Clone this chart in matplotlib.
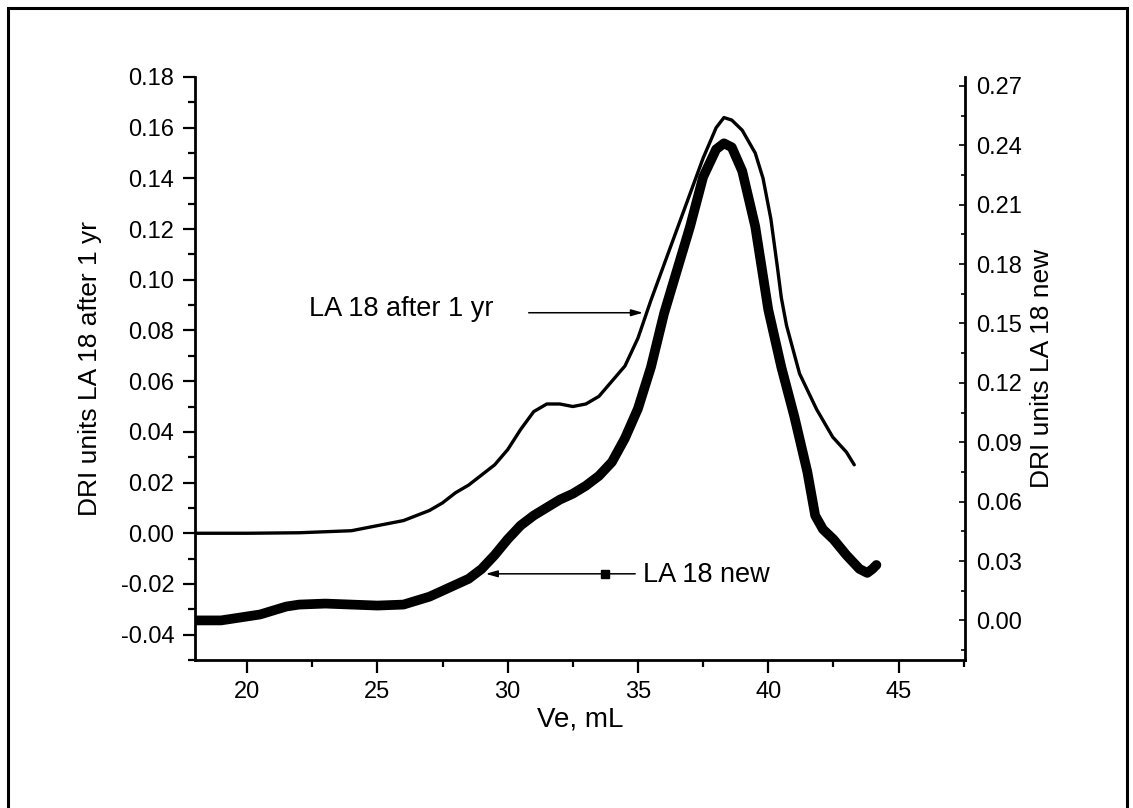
import matplotlib
matplotlib.use("Agg")
import matplotlib.pyplot as plt
from matplotlib.patches import Rectangle
from matplotlib.ticker import MultipleLocator

plt.rcParams['font.family'] = ['Liberation Sans', 'DejaVu Sans']

# LA 18 after 1 yr (left axis)
ve_old = [18, 20, 22, 24, 25, 26, 27, 27.5, 28, 28.5, 29, 29.5, 30, 30.5, 31, 31.5,
          32, 32.5, 33, 33.5, 34, 34.5, 35, 35.5, 36, 36.5, 37, 37.5, 38, 38.3, 38.6,
          39, 39.5, 39.8, 40.1, 40.35, 40.5, 40.7, 41.2, 41.85, 42.47, 43.0, 43.3]
dri_old = [0, 0, 0.0002, 0.001, 0.003, 0.005, 0.009, 0.012, 0.016, 0.019, 0.023, 0.027,
           0.033, 0.041, 0.048, 0.051, 0.051, 0.050, 0.051, 0.054, 0.060, 0.066, 0.077,
           0.092, 0.106, 0.120, 0.134, 0.148, 0.160, 0.164, 0.163, 0.159, 0.150, 0.140,
           0.124, 0.105, 0.093, 0.082, 0.063, 0.049, 0.038, 0.032, 0.027]

# LA 18 new (right axis)
ve_new = [18, 19, 20, 20.5, 21, 21.5, 22, 23, 24, 25, 26, 26.5, 27, 27.5, 28, 28.5, 29,
          29.5, 30, 30.5, 31, 31.5, 32, 32.5, 33, 33.5, 34, 34.5, 35, 35.5, 36, 36.5, 37,
          37.5, 38, 38.3, 38.6, 39, 39.5, 40, 40.5, 41, 41.5, 41.8, 42.1, 42.5, 43, 43.5,
          43.8, 44.0, 44.15]
dri_new = [0.0, 0.0, 0.002, 0.003, 0.005, 0.007, 0.008, 0.0085, 0.008, 0.0075, 0.008,
           0.010, 0.012, 0.015, 0.018, 0.021, 0.026, 0.033, 0.041, 0.048, 0.053, 0.057,
           0.061, 0.064, 0.068, 0.073, 0.080, 0.092, 0.107, 0.128, 0.155, 0.177, 0.199,
           0.224, 0.238, 0.241, 0.239, 0.227, 0.199, 0.157, 0.128, 0.103, 0.075, 0.053,
           0.046, 0.041, 0.033, 0.026, 0.024, 0.026, 0.028]

fig = plt.figure(figsize=(11.33, 8.08), dpi=100)
ax = fig.add_axes([195 / 1133, 1 - 660 / 808, (965 - 195) / 1133, (660 - 77) / 808])

# outer frame
fig.patches.append(Rectangle((7.5 / 1133, -0.02), (1127 - 7.5) / 1133, 1.02 - 7.5 / 808,
                             transform=fig.transFigure, fill=False, lw=2.2, ec='black'))

ax.plot(ve_old, dri_old, color='black', lw=2.4, solid_joinstyle='round', solid_capstyle='round')
ax.set_xlim(18, 47.55)
ax.set_ylim(-0.05, 0.18)
ax.xaxis.set_major_locator(MultipleLocator(5))
ax.xaxis.set_minor_locator(MultipleLocator(2.5))
ax.yaxis.set_major_locator(MultipleLocator(0.02))
ax.yaxis.set_minor_locator(MultipleLocator(0.01))
ax.yaxis.set_major_formatter(plt.FuncFormatter(lambda v, p: f"{v:.2f}".replace("-0.00", "0.00")))
ax.spines['top'].set_visible(False)
ax.spines['right'].set_visible(False)
for s in ['left', 'bottom']:
    ax.spines[s].set_linewidth(2)
ax.tick_params(which='major', direction='out', length=9, width=1.6, labelsize=17, pad=6)
ax.tick_params(which='minor', direction='out', length=5, width=1.6)
ax.set_xlabel("Ve, mL", fontsize=20, labelpad=3)
ax.set_ylabel("DRI units LA 18 after 1 yr", fontsize=19, labelpad=13)

ax2 = ax.twinx()
ax2.plot(ve_new, dri_new, color='black', lw=7, solid_joinstyle='round', solid_capstyle='round')
ax2.set_ylim(-0.02, 0.2745)
ax2.yaxis.set_major_locator(MultipleLocator(0.03))
ax2.yaxis.set_minor_locator(MultipleLocator(0.015))
ax2.yaxis.set_major_formatter(plt.FuncFormatter(lambda v, p: f"{v:.2f}" if v > -0.001 else ""))
ax2.spines['top'].set_visible(False)
ax2.spines['left'].set_visible(False)
ax2.spines['bottom'].set_visible(False)
ax2.spines['right'].set_linewidth(2)
ax2.tick_params(which='major', direction='in', length=4, width=1.2, labelsize=17, pad=8)
ax2.tick_params(which='minor', direction='in', length=3, width=1.2)
ax2.set_ylabel("DRI units LA 18 new", fontsize=19, labelpad=6)

# labels with arrows
ax.text(29.45, 0.0885, "LA 18 after 1 yr", fontsize=19.5, ha='right', va='center')
ax.annotate("", xy=(35.3, 0.087), xytext=(30.7, 0.087),
            arrowprops=dict(arrowstyle='-|>,head_length=0.7,head_width=0.2', color='black', lw=1.1))
ax.annotate("", xy=(29.05, -0.016), xytext=(35.0, -0.016),
            arrowprops=dict(arrowstyle='-|>,head_length=0.7,head_width=0.2', color='black', lw=1.1))
ax.plot([33.75], [-0.016], marker='s', color='black', ms=6)
ax.text(35.2, -0.0165, "LA 18 new", fontsize=19.5, ha='left', va='center')

fig.savefig("out.png", dpi=100)
